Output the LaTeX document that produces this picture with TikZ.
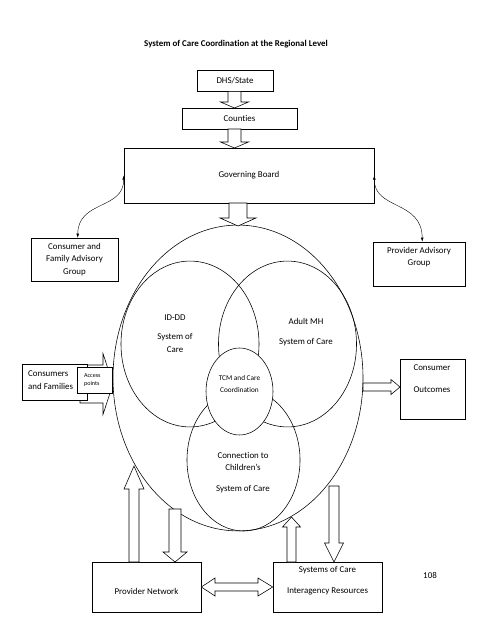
\documentclass[tikz,border=0pt]{standalone}
\usepackage{fontspec}
\setmainfont{Carlito}[Ligatures={NoCommon,NoRare}]
\usetikzlibrary{shapes.geometric,arrows.meta}

\newcommand{\bodyfont}{\fontsize{11}{15.5}\selectfont}
\newcommand{\tinyfont}{\fontsize{7.5}{11}\selectfont}

% hollow block arrows: #1 x (or y), #2 tail, #3 head base, #4 tip, #5 half shaft, #6 half head
\newcommand{\vblockarrow}[6]{%
	\draw[blockarrow] ({#1-#5},#2) -- ({#1-#5},#3) -- ({#1-#6},#3) -- (#1,#4)
	-- ({#1+#6},#3) -- ({#1+#5},#3) -- ({#1+#5},#2) -- cycle;}
\newcommand{\hblockarrow}[6]{%
	\draw[blockarrow] (#2,{#1-#5}) -- (#3,{#1-#5}) -- (#3,{#1-#6}) -- (#4,#1)
	-- (#3,{#1+#6}) -- (#3,{#1+#5}) -- (#2,{#1+#5}) -- cycle;}

\begin{document}
\begin{tikzpicture}[
	x=1.236pt, y=-1.236pt,
	every node/.style={font=\bodyfont},
	box/.style={rectangle, draw, line width=0.8pt, fill=white, inner sep=0pt, align=center},
	soc/.style={ellipse, draw, line width=0.7pt, inner sep=0pt},
	lbl/.style={align=center, inner sep=0pt},
	blockarrow/.style={draw, fill=white, line width=0.7pt, line join=miter},
	link/.style={<->, >={Latex[length=5pt,width=3.5pt]}, line width=0.5pt}
	]
	\useasboundingbox (0,0) rectangle (495,640);
	
	\node[lbl, font=\bodyfont\bfseries] (title) at (236,44) {System of Care Coordination at the Regional Level};
	
	% chain at the top
	\node[box, minimum width=94pt, minimum height=25.5pt] (dhs) at (235,81) {DHS/State};
	\node[box, minimum width=142pt, minimum height=26pt] (counties) at (239.5,118.5) {Counties};
	\node[box, minimum width=309pt, minimum height=68pt] (gb) at (249,175.5) {Governing Board};
	
	\vblockarrow{234.5}{91.3}{102}{108}{6.5}{14}
	\vblockarrow{234.5}{129}{142}{148}{6.5}{14}
	
	% advisory groups
	\node[box, minimum width=107.5pt, minimum height=53pt] (cfa) at (74.5,259.5) {Consumer and\\Family Advisory\\Group};
	\node[box, minimum width=113.7pt, minimum height=54.4pt] (pag) at (419,264) {};
	\node[lbl] (pagtext) at (419,257) {Provider Advisory\\Group};
	
	\draw[link] ([xshift=4pt]cfa.north) .. controls (78,200) and (124,210) .. (gb.west);
	\draw[link] (gb.east) .. controls (374,210) and (422,200) .. ([xshift=4pt]pag.north);
	
	% regional system of care
	\node[soc, minimum width=309pt, minimum height=378pt] (region) at (238,378) {};
	\node[soc, minimum width=170.6pt, minimum height=205pt] (iddd) at (190,344) {};
	\node[soc, minimum width=170.6pt, minimum height=205pt] (adultmh) at (287.5,344) {};
	\node[soc, minimum width=139.7pt, minimum height=175.5pt] (children) at (243.5,460) {};
	\node[soc, fill=white, minimum width=82.8pt, minimum height=107.5pt] (tcm) at (239.5,391.5) {};
	
	\node[lbl] (idddtext) at (175,333.5) {ID-DD\\[9pt]System of\\Care};
	\node[lbl] (adultmhtext) at (306,332) {Adult MH\\[9pt]System of Care};
	\node[lbl, font=\fontsize{9}{15}\selectfont] (tcmtext) at (239.5,384) {TCM and Care\\Coordination};
	\node[lbl] (childrentext) at (243,472.5) {Connection to\\Children's\\[10pt]System of Care};
	
	\vblockarrow{238}{203}{218}{226}{9}{18}
	
	% consumers in, outcomes out
	\hblockarrow{384}{80}{103}{113}{19}{30.5}
	\node[box, minimum width=80pt, minimum height=44.5pt] (cf) at (54.5,382) {};
	\node[lbl, anchor=west, align=left] (cftext) at (28,380) {Consumers\\and Families};
	\node[box, minimum width=43pt, minimum height=32pt] (access) at (94.5,380) {};
	\node[lbl, anchor=west, align=left, font=\tinyfont] (accesstext) at (84,380) {Access\\points};
	
	\node[box, minimum width=80pt, minimum height=74pt] (outcomes) at (432.5,389) {};
	\node[lbl] (outcomestext) at (432,378.5) {Consumer\\[11pt]Outcomes};
	\hblockarrow{387}{363}{391}{400}{4}{7.5}
	
	% resources below
	\node[box, minimum width=134.7pt, minimum height=61.8pt] (provnet) at (146.5,587) {};
	\node[lbl] (provnettext) at (146.5,591) {Provider Network};
	\node[box, minimum width=134.7pt, minimum height=61.8pt] (socres) at (327.5,587) {};
	\node[lbl] (socrestext) at (327.5,581) {Systems of Care\\[10pt]Interagency Resources};
	
	\vblockarrow{134}{562}{489}{466}{5}{10}
	\vblockarrow{175}{509}{552}{562}{6}{12}
	\vblockarrow{291.5}{562}{527}{517}{4.5}{9}
	\vblockarrow{334}{486}{543}{562}{5}{9.5}
	
	\draw[blockarrow] (provnet.east) -- (215,578) -- (215,583) -- (258,583) -- (258,578)
	-- (socres.west) -- (258,596) -- (258,591) -- (215,591) -- (215,596) -- cycle;
	
	\node[lbl] (pagenum) at (430,575) {108};
\end{tikzpicture}
\end{document}
